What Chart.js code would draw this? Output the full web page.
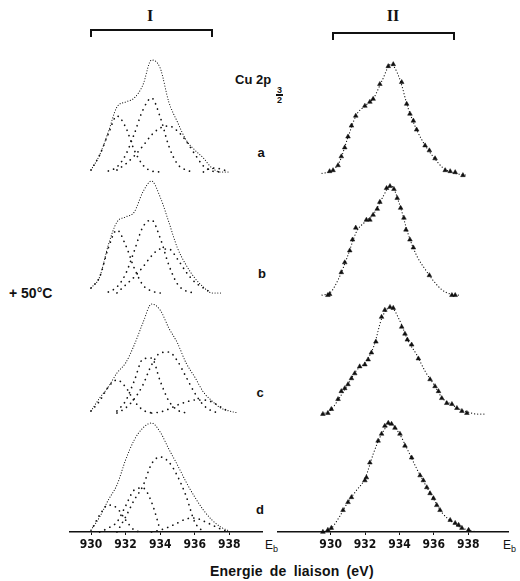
<!DOCTYPE html>
<html>
<head>
<meta charset="utf-8">
<script src="https://cdn.jsdelivr.net/npm/chart.js@4/dist/chart.umd.min.js"></script>
<style>
body { margin: 0; background: #fff; width: 520px; height: 581px; position: relative; overflow: hidden;
       font-family: "Liberation Sans", Arial, sans-serif; font-weight: bold; color: #111; }
canvas { position: absolute; }
.t { position: absolute; white-space: nowrap; line-height: 1; }
.c { transform: translate(-50%, -50%); }
.br { position: absolute; box-sizing: border-box; border: 2px solid #111; border-bottom: none; height: 8px; }
.frac { display: inline-block; text-align: center; font-size: 9px; line-height: 8px; font-weight: bold; }
.frac span { display: block; padding: 0 1px; }
.frac .n { border-bottom: 2px solid #111; }
</style>
</head>
<body>
<div class="t c" style="left:150px;top:16px;font-family:'Liberation Serif',serif;font-size:16px">I</div>
<div class="br" style="left:90px;top:29px;width:123px"></div>
<div class="t c" style="left:393px;top:16px;font-family:'Liberation Serif',serif;font-size:16px">II</div>
<div class="br" style="left:332px;top:32px;width:123px"></div>

<div class="t" style="left:235px;top:73px;font-size:13px">Cu 2p</div>
<div class="t" style="left:276px;top:86px"><div class="frac"><span class="n">3</span><span>2</span></div></div>

<div class="t c" style="left:261px;top:152px;font-size:13px">a</div>
<div class="t c" style="left:262px;top:273px;font-size:13px">b</div>
<div class="t c" style="left:260px;top:392px;font-size:13px">c</div>
<div class="t c" style="left:260px;top:509px;font-size:13px">d</div>
<div class="t" style="left:9px;top:286px;font-size:14px">+ 50°C</div>

<div class="t" style="left:265px;top:539px;font-size:12px;font-weight:normal">E<sub style="font-size:9px">b</sub></div>
<div class="t" style="left:503px;top:539px;font-size:12px;font-weight:normal">E<sub style="font-size:9px">b</sub></div>
<div class="t" style="left:210px;top:564px;font-size:14px;letter-spacing:0.2px;word-spacing:3px">Energie de liaison (eV)</div>

<canvas id="left" width="210" height="517" style="left:60px;top:40px"></canvas>
<canvas id="right" width="245" height="517" style="left:270px;top:40px"></canvas>

<script>
// tick labels of the energy axis
const xTicks = [930, 932, 934, 936, 938];

// vertical shift of spectra a, b, c, d
const offsets = [360, 239, 119, 0];

// ---- panel I : envelopes and fitted components ----
const leftEnergy = [930, 930.5, 931, 931.5, 932, 932.5, 933, 933.5, 934, 934.5, 935, 935.5, 936, 936.5, 937, 937.5, 938, 938.5];

const envA = [2, 17, 40, 65, 70, 74, 87, 112, 104, 70, 50, 32, 22, 14, 4, 0, 0, null];
const compA1 = [2, 17, 38, 56, 45, 22, 7, 1, 0, null, null, null, null, null, null, null, null, null];
const compA2 = [null, null, 1, 5, 17, 38, 62, 74, 55, 26, 8, 2, 0, null, null, null, null, null];
const compA3 = [null, null, null, 2, 8, 16, 26, 37, 44, 46, 41, 31, 18, 6, 1, 0, null, null];
const compA4 = [null, null, null, null, null, null, null, null, null, null, null, null, null, 0, 4, 3, 0, null];

const envB = [5, 16, 48, 71, 76, 81, 101, 112, 96, 71, 45, 28, 15, 6, 0, 0, null, null];
const compB1 = [5, 16, 45, 63, 48, 25, 8, 2, 0, null, null, null, null, null, null, null, null, null];
const compB2 = [null, null, 1, 6, 19, 42, 66, 73, 55, 28, 9, 2, 0, null, null, null, null, null];
const compB3 = [null, null, null, 0, 8, 16, 26, 37, 44, 44, 34, 21, 11, 5, 0, null, null, null];

const envC = [2, 15, 26, 40, 50, 68, 90, 109, 103, 85, 70, 50, 36, 21, 12, 5, 2, 0];
const compC1 = [2, 12, 26, 33, 26, 12, 3, 0, null, null, null, null, null, null, null, null, null, null];
const compC2 = [null, null, null, 2, 12, 32, 54, 55, 32, 12, 3, 0, null, null, null, null, null, null];
const compC3 = [null, null, null, 0, 5, 14, 28, 48, 60, 61, 52, 36, 20, 8, 2, 0, null, null];
const compC4 = [null, null, null, null, null, null, null, 0, 1, 4, 8, 11, 13, 13, 11, 6, 1, null];

const envD = [2, 15, 32, 47, 72, 92, 104, 109, 100, 83, 67, 50, 35, 22, 12, 5, 1, null];
const compD1 = [1, 17, 27, 24, 12, 2, 0, null, null, null, null, null, null, null, null, null, null, null];
const compD2 = [null, 0, 4, 10, 26, 42, 44, 30, 2, null, null, null, null, null, null, null, null, null];
const compD3 = [null, null, null, 0, 15, 32, 46, 68, 75, 70, 56, 36, 10, 0, null, null, null, null];
const compD4 = [null, null, null, null, null, null, null, 0, 2, 5, 9, 13, 14, 11, 7, 3, 0, null];

// ---- panel II : fitted curve + measured points (triangles) ----
const rightEnergy = [929, 929.5, 930, 930.5, 931, 931.5, 932, 932.5, 933, 933.5, 934, 934.5, 935, 935.5, 936, 936.5, 937, 937.5, 938, 938.5, 939];

const fitA = [null, 2, 4, 13, 38, 61, 70, 78, 96, 112, 98, 68, 46, 30, 18, 8, 3, 1, 0, null, null];
const fitB = [null, 0, 3, 18, 40, 64, 74, 82, 98, 111, 92, 62, 40, 26, 14, 5, 1, 0, null, null, null];
const fitC = [null, 0, 4, 16, 30, 44, 52, 68, 98, 108, 95, 74, 60, 43, 30, 16, 10, 5, 2, 0, 0];
const fitD = [null, 0, 3, 15, 30, 42, 54, 80, 100, 109, 99, 82, 64, 48, 33, 19, 11, 5, 2, 0, null];

const triAx = [929.94, 930.14, 930.43, 930.62, 930.82, 931.01, 931.21, 931.46, 931.99, 932.28, 932.47, 932.86, 933.35, 933.64, 934.13, 934.42, 934.61, 934.81, 935.0, 935.49, 935.74, 936.07, 936.66, 936.95, 937.24, 937.69];
const triAy = [4, 5, 10, 19, 28, 39, 50, 60, 70, 74, 77, 92, 110, 112, 94, 72, 62, 55, 46, 30, 25, 17, 5, 4, 3, 0];
const triBx = [929.84, 929.94, 930.62, 930.82, 931.11, 931.27, 931.46, 932.08, 932.28, 932.47, 932.71, 932.86, 933.25, 933.45, 933.68, 933.87, 934.07, 934.26, 934.38, 934.61, 934.81, 935.74, 937.05, 937.24];
const triBy = [0, 1, 23, 33, 45, 56, 68, 76, 76, 81, 87, 94, 108, 110, 107, 98, 88, 78, 66, 56, 48, 20, 0, 0];
const triCx = [929.55, 929.84, 930.04, 930.43, 930.62, 930.82, 931.01, 931.21, 931.4, 931.69, 931.99, 932.18, 932.37, 932.63, 932.96, 933.15, 933.45, 933.64, 934.13, 934.32, 934.46, 934.71, 935.1, 935.78, 936.07, 936.27, 936.46, 936.75, 937.05, 937.34, 937.63, 937.92];
const triCy = [0, 1, 5, 15, 23, 26, 30, 36, 41, 48, 50, 55, 62, 73, 98, 105, 108, 107, 88, 81, 75, 70, 56, 35, 28, 23, 16, 11, 10, 6, 3, 1];
const triDx = [929.55, 929.84, 930.04, 930.72, 931.01, 931.21, 931.99, 932.08, 932.28, 932.76, 932.96, 933.15, 933.35, 933.54, 933.74, 934.03, 934.32, 934.71, 935.2, 935.39, 935.59, 935.78, 935.98, 936.17, 936.36, 936.95, 937.24, 937.44, 937.63, 938.02];
const triDy = [0, 2, 4, 22, 30, 35, 52, 55, 70, 92, 99, 107, 110, 109, 105, 99, 87, 75, 57, 52, 45, 39, 34, 27, 22, 12, 9, 7, 4, 2];

const ink = '#111';

function pts(xs, ys, off) {
    return xs.map((x, i) => ({ x: x, y: ys[i] == null ? null : ys[i] + off }));
}

function envelope(ys, off) {
    return { data: pts(leftEnergy, ys, off), borderColor: ink, borderWidth: 1.1,
             borderDash: [0.1, 2.6], borderCapStyle: 'round', pointRadius: 0,
             cubicInterpolationMode: 'monotone', clip: false };
}

function component(ys, off) {
    return { data: pts(leftEnergy, ys, off), borderColor: ink, borderWidth: 1.7,
             borderDash: [0.1, 5.5], borderCapStyle: 'round', pointRadius: 0,
             cubicInterpolationMode: 'monotone', clip: false };
}

function fitLine(ys, off) {
    return { data: pts(rightEnergy, ys, off), borderColor: ink, borderWidth: 1.2,
             borderDash: [0.1, 3], borderCapStyle: 'round', pointRadius: 0,
             cubicInterpolationMode: 'monotone', clip: false };
}

function triangles(xs, ys, off) {
    return { data: pts(xs, ys, off), showLine: false, pointStyle: 'triangle',
             pointRadius: 2.7, pointBackgroundColor: ink, pointBorderColor: ink,
             pointBorderWidth: 0.5, clip: false };
}

function panel(id, xmin, xmax, padL, padR, datasets) {
    return new Chart(document.getElementById(id), {
        type: 'line',
        data: { datasets: datasets },
        options: {
            responsive: false,
            animation: false,
            layout: { padding: { left: padL, right: padR, top: 0, bottom: 0 } },
            plugins: { legend: { display: false }, tooltip: { enabled: false } },
            scales: {
                x: {
                    type: 'linear', min: xmin, max: xmax,
                    afterBuildTicks: s => { s.ticks = xTicks.map(v => ({ value: v })); },
                    afterFit: s => { s.height = 25; },
                    grid: { display: true, drawOnChartArea: false, drawTicks: true, tickLength: 3, color: ink, lineWidth: 1 },
                    border: { display: true, color: ink, width: 1.5 },
                    ticks: { color: ink, padding: 3, maxRotation: 0, autoSkip: false,
                             font: { family: "'Liberation Sans Narrow', 'DejaVu Sans Condensed', sans-serif", size: 12, weight: 'bold' } }
                },
                y: { display: false, min: 0, max: 492 }
            }
        }
    });
}

const leftSets = [
    envelope(envA, offsets[0]), component(compA1, offsets[0]), component(compA2, offsets[0]), component(compA3, offsets[0]), component(compA4, offsets[0]),
    envelope(envB, offsets[1]), component(compB1, offsets[1]), component(compB2, offsets[1]), component(compB3, offsets[1]),
    envelope(envC, offsets[2]), component(compC1, offsets[2]), component(compC2, offsets[2]), component(compC3, offsets[2]), component(compC4, offsets[2]),
    envelope(envD, offsets[3]), component(compD1, offsets[3]), component(compD2, offsets[3]), component(compD3, offsets[3]), component(compD4, offsets[3])
];

const rightSets = [
    fitLine(fitA, offsets[0]), triangles(triAx, triAy, offsets[0]),
    fitLine(fitB, offsets[1]), triangles(triBx, triBy, offsets[1]),
    fitLine(fitC, offsets[2]), triangles(triCx, triCy, offsets[2]),
    fitLine(fitD, offsets[3]), triangles(triDx, triDy, offsets[3])
];

panel('left', 928.785, 939.89, 10, 8, leftSets);
panel('right', 926.94, 940.31, 8, 7, rightSets);
</script>
</body>
</html>
